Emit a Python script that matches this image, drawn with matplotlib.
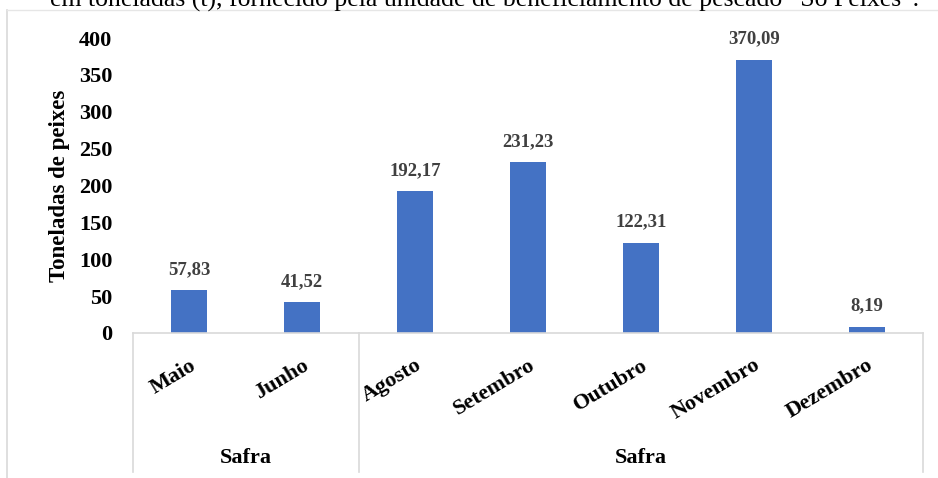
import matplotlib
matplotlib.use("Agg")
import matplotlib.pyplot as plt
from matplotlib.lines import Line2D

# data
months = ["Maio", "Junho", "Agosto", "Setembro", "Outubro", "Novembro", "Dezembro"]
tons = [57.83, 41.52, 192.17, 231.23, 122.31, 370.09, 8.19]
groups = ["Safra", "Safra"]
group_sizes = [2, 5]
yticks = [0, 50, 100, 150, 200, 250, 300, 350, 400]
caption = "em toneladas (t), fornecido pela unidade de beneficiamento de pescado \u201cS\u00f3 Peixes\u201d."

plt.rcParams["font.family"] = ["Liberation Serif", "DejaVu Serif"]

W, H = 938, 478
fig = plt.figure(figsize=(W / 100, H / 100), dpi=100)

def fx(px):
    return px / W

def fy(py):
    return 1 - py / H

ax = fig.add_axes([fx(133), fy(333), fx(923) - fx(133), fy(38) - fy(333)])

x = list(range(len(months)))
ax.bar(x, tons, width=0.32, color="#4472C4", zorder=2)
for xi, v in zip(x, tons):
    ax.annotate(f"{v:.2f}".replace(".", ","), (xi, v), xytext=(0, 9),
                textcoords="offset points", ha="center", va="bottom",
                fontsize=13.5, fontweight="bold", color="#404040")

ax.set_xlim(-0.5, len(months) - 0.5)
ax.set_ylim(0, 400)
ax.set_yticks(yticks)
ax.set_yticklabels([str(t) for t in yticks], fontsize=16, fontweight="bold")
ax.tick_params(axis="y", length=0, pad=15)
ax.set_ylabel("Toneladas de peixes", fontsize=16.5, fontweight="bold", labelpad=6)

ax.set_xticks(x)
ax.set_xticklabels(months, fontsize=16, fontweight="bold")
ax.tick_params(axis="x", length=0, pad=16)
plt.setp(ax.get_xticklabels(), rotation=31, ha="right", va="top", rotation_mode="anchor")

for s in ["top", "right", "left"]:
    ax.spines[s].set_visible(False)
ax.spines["bottom"].set_color("#d9d9d9")
ax.spines["bottom"].set_linewidth(1.2)

# group separators and labels below the axis
grp_bottom = -(472 - 333) / (333 - 38)
trans = ax.get_xaxis_transform()
edges = [-0.5]
for n in group_sizes:
    edges.append(edges[-1] + n)
for e in edges:
    ax.add_line(Line2D([e, e], [0, grp_bottom], transform=trans, color="#d9d9d9",
                       lw=1.2, clip_on=False))
for name, a, b in zip(groups, edges[:-1], edges[1:]):
    ax.text((a + b) / 2, -(458 - 333) / (333 - 38), name, transform=trans,
            ha="center", va="center", fontsize=16, fontweight="bold")

# outer chart frame (cropped on the right) and the cut-off caption above it
fig.add_artist(Line2D([fx(7), fx(7)], [fy(10), 0], color="#d9d9d9", lw=1.2))
fig.add_artist(Line2D([fx(7), 1], [fy(10), fy(10)], color="#e6e6e6", lw=1.0))
fig.text(fx(485), fy(7), caption, ha="center", va="baseline", fontsize=18.5)

fig.savefig("out.png", dpi=100)
